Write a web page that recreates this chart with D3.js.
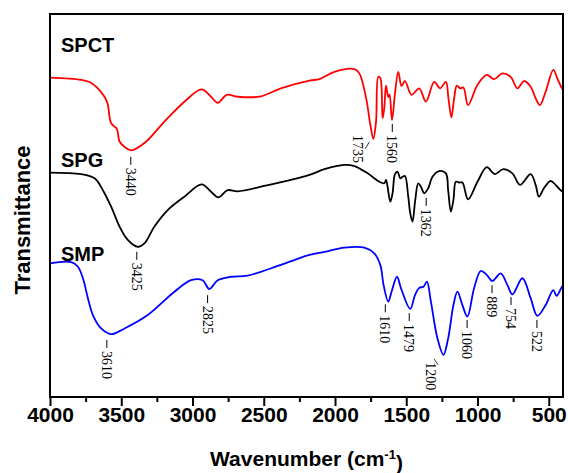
<!DOCTYPE html>
<html>
<head>
<meta charset="utf-8">
<script src="https://cdn.jsdelivr.net/npm/d3@7"></script>
<style>
  body { margin: 0; background: #fff; }
  svg { display: block; }
</style>
</head>
<body>
<div id="chart"></div>
<script>
// FTIR spectra, wavenumber (cm-1) and transmittance (offset, a.u.)
var spctWn = [4000,3781,3711,3641,3599,3571,3531,3512,3477,3431,3337,3197,3057,2936,2870,2823,2760,2683,2520,2380,2179,2109,2004,1864,1829,1782,1752,1731,1712,1696,1682,1666,1654,1642,1626,1617,1600,1579,1556,1533,1509,1463,1409,1362,1304,1262,1222,1204,1183,1164,1145,1122,1099,1066,1000,935,884,826,767,720,673,627,592,562,522,468,440,412,400]
var spctT = [83.4,82.8,82.0,79.6,77.0,71.5,70.0,66.7,65.3,64.4,66.3,71.9,77.1,80.3,78.4,76.8,78.9,78.4,78.5,80.6,82.6,83.0,84.9,85.6,84.5,78.1,71.1,67.4,71.9,83.6,83.3,72.8,75.5,81.3,78.3,79.0,72.3,79.3,84.9,81.2,82.5,78.9,80.6,77.1,82.3,80.6,82.3,78.0,73.0,78.0,81.3,80.6,80.8,76.2,81.5,84.1,83.0,84.5,83.6,80.6,82.5,81.0,78.0,76.2,79.7,85.4,83.2,80.9,80.2]

var spgWn = [4000,3781,3687,3629,3571,3512,3454,3384,3337,3267,3174,3057,2936,2870,2819,2753,2683,2497,2179,2074,1934,1864,1771,1689,1654,1642,1631,1612,1596,1579,1561,1542,1526,1509,1486,1472,1456,1437,1416,1397,1374,1346,1316,1269,1222,1206,1187,1169,1152,1129,1106,1066,1000,935,879,818,755,702,627,592,569,534,487,452,417,400]
var spgT = [58.6,58.2,57.1,54.0,49.7,44.5,41.0,39.2,40.1,44.5,48.8,52.3,55.5,53.6,52.1,54.0,53.7,55.1,58.0,59.5,60.6,60.3,58.4,56.2,55.8,56.7,54.9,51.0,53.2,58.2,58.8,57.1,57.5,57.7,52.3,48.0,45.8,51.4,55.8,54.9,53.2,54.5,57.5,59.0,58.4,54.0,48.4,51.4,56.2,56.0,56.0,51.6,56.2,60.0,58.2,59.5,58.4,55.4,58.2,55.4,52.3,54.5,56.4,55.4,54.0,53.5]

var smpWn = [4000,3851,3804,3769,3734,3699,3641,3571,3477,3314,3127,3010,2929,2882,2823,2730,2613,2380,2179,2074,1934,1794,1724,1682,1659,1626,1603,1565,1537,1472,1439,1409,1379,1355,1327,1281,1239,1206,1169,1141,1106,1071,1024,977,935,896,837,790,755,685,627,580,522,468,445,412,400]
var smpT = [34.9,35.2,34.0,31.0,25.8,21.4,17.9,16.4,17.9,21.4,27.5,30.5,30.5,28.2,30.5,31.4,31.7,34.5,37.1,37.9,39.0,39.0,37.5,34.5,29.2,24.9,27.5,31.4,28.4,23.0,26.6,28.5,28.8,30.1,24.9,15.3,11.0,15.3,24.0,27.5,24.0,21.0,28.4,32.9,31.9,30.3,32.3,29.2,26.8,31.0,25.8,21.2,24.0,27.9,26.4,28.5,29.2]

var seriesNames = ["SPCT", "SPG", "SMP"]
var seriesColors = ["#ff0000", "#000000", "#0000ff"]
var nameWn = [3923, 3923, 3923]
var nameT = [90.1, 60.1, 35.5]

// peak labels: text, where it starts (wn, t) and whether it gets a dash
var peakText = ["3440","1735","1560","3425","1362","3610","2825","1610","1479","1200","1060","889","754","522"]
var peakWn   = [3433, 1836, 1598, 3391, 1360, 3601, 2894, 1647, 1479, 1325, 1073, 898, 765, 583]
var peakT    = [62.7, 68.4, 71.3, 37.9, 52.0, 14.9, 26.6, 24.2, 21.9, 9.1, 20.1, 29.2, 26.1, 20.1]
var peakDash = [true, false, true, true, true, true, true, true, true, false, true, true, true, true]
// little slanted leaders for the two labels without a dash
var leaders = [[[1759, 66.6], [1787, 64.8]], [[1304, 9.9], [1276, 8.4]]]

var xTicks = [4000, 3500, 3000, 2500, 2000, 1500, 1000, 500]
var xMinor = [3750, 3250, 2750, 2250, 1750, 1250, 750]

var width = 568,
    height = 473
var plotLeft = 50, plotRight = 563, plotTop = 14, plotBottom = 397

var svg = d3.select("#chart")
  .append("svg")
    .attr("width", width)
    .attr("height", height)

var x = d3.scaleLinear().domain([4000, 400]).range([plotLeft, plotRight])
var y = d3.scaleLinear().domain([0, 100]).range([plotBottom, plotTop])

var line = d3.line()
  .x(function(d) { return x(d[0]) })
  .y(function(d) { return y(d[1]) })
  .curve(d3.curveCatmullRom.alpha(0.5))

var allWn = [spctWn, spgWn, smpWn]
var allT = [spctT, spgT, smpT]

for (var s = 0; s < 3; s++) {
  var pts = allWn[s].map(function(w, i) { return [w, allT[s][i]] })
  svg.append("path")
    .datum(pts)
    .attr("d", line)
    .attr("fill", "none")
    .attr("stroke", seriesColors[s])
    .attr("stroke-width", 1.8)
    .attr("stroke-linejoin", "round")

  svg.append("text")
    .attr("x", x(nameWn[s]))
    .attr("y", y(nameT[s]))
    .style("font-family", "'Liberation Sans', Arial, sans-serif")
    .style("font-weight", "bold")
    .style("font-size", "20px")
    .text(seriesNames[s])
}

// peak labels, rotated so they read downwards
var peaks = svg.selectAll("peakLabels")
  .data(peakText)
  .enter()
  .append("g")
    .attr("transform", function(d, i) {
      return "translate(" + x(peakWn[i]) + "," + y(peakT[i]) + ") rotate(90)"
    })

peaks.filter(function(d, i) { return peakDash[i] })
  .append("line")
    .attr("x1", 0)
    .attr("x2", 8)
    .attr("stroke", "#000")
    .attr("stroke-width", 1)

peaks.append("text")
    .attr("x", function(d, i) { return peakDash[i] ? 11 : 0 })
    .attr("dy", "0.35em")
    .style("font-family", "'Liberation Serif', 'Times New Roman', serif")
    .style("font-size", "14px")
    .text(function(d) { return d })

svg.selectAll("leaders")
  .data(leaders)
  .enter()
  .append("path")
    .attr("d", d3.line().x(function(d) { return x(d[0]) }).y(function(d) { return y(d[1]) }))
    .attr("stroke", "#000")
    .attr("stroke-width", 0.8)

// frame
svg.append("rect")
  .attr("x", plotLeft)
  .attr("y", plotTop)
  .attr("width", plotRight - plotLeft)
  .attr("height", plotBottom - plotTop)
  .attr("fill", "none")
  .attr("stroke", "#000")
  .attr("stroke-width", 2)

var xAxis = svg.append("g")
  .attr("transform", "translate(0," + plotBottom + ")")
  .call(d3.axisBottom(x).tickValues(xTicks).tickSize(9).tickPadding(1).tickFormat(d3.format("d")))
xAxis.select(".domain").remove()
xAxis.selectAll("line").attr("stroke-width", 2)
xAxis.selectAll("text")
  .style("font-family", "'Liberation Sans', Arial, sans-serif")
  .style("font-weight", "bold")
  .style("font-size", "21px")

var minor = svg.append("g")
  .attr("transform", "translate(0," + plotBottom + ")")
  .call(d3.axisBottom(x).tickValues(xMinor).tickSize(5).tickFormat(""))
minor.select(".domain").remove()
minor.selectAll("line").attr("stroke-width", 2)

// axis titles
var xTitle = svg.append("text")
  .attr("x", (plotLeft + plotRight) / 2)
  .attr("y", 466)
  .style("text-anchor", "middle")
  .style("font-family", "'Liberation Sans', Arial, sans-serif")
  .style("font-weight", "bold")
  .style("font-size", "21px")
xTitle.append("tspan").text("Wavenumber (cm")
xTitle.append("tspan").attr("dy", "-0.55em").style("font-size", "13px").text("-1")
xTitle.append("tspan").attr("dy", "0.55em").text(")")

svg.append("text")
  .attr("transform", "translate(30,220) rotate(-90)")
  .style("text-anchor", "middle")
  .style("font-family", "'Liberation Sans', Arial, sans-serif")
  .style("font-weight", "bold")
  .style("font-size", "22px")
  .text("Transmittance")
</script>
</body>
</html>
